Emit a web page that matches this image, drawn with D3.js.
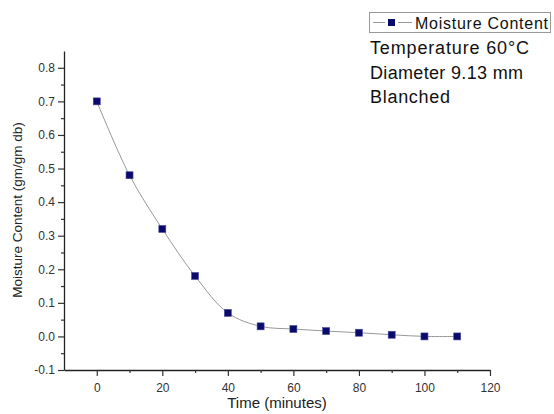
<!DOCTYPE html>
<html><head><meta charset="utf-8">
<script src="https://cdn.jsdelivr.net/npm/d3@7"></script>
<style>body{margin:0;background:#fff}svg{display:block}text{font-family:"Liberation Sans",Arial,sans-serif}</style>
</head><body>
<script>
const timeMin = [0,10,20,30,40,50,60,70,80,90,100,110];
const moisture = [0.70,0.48,0.32,0.18,0.07,0.03,0.022,0.016,0.011,0.005,0.0,0.0];
const xTicks = [0,20,40,60,80,100,120];
const yTicks = [-0.1,0.0,0.1,0.2,0.3,0.4,0.5,0.6,0.7,0.8];
const seriesName = "Moisture Content";
const notes = ["Temperature 60°C","Diameter 9.13 mm","Blanched"];

const W=554,H=414;
const svg=d3.select("body").append("svg").attr("width",W).attr("height",H);
const x=d3.scaleLinear().domain([-10,120]).range([64,490]);
const y=d3.scaleLinear().domain([-0.1,0.85]).range([370,51]);

// x axis
const xa=svg.append("g").attr("transform","translate(0,370)");
xa.call(d3.axisBottom(x).tickValues(xTicks).tickSize(6).tickSizeOuter(0).tickFormat(d3.format("d")));
xa.append("g").call(d3.axisBottom(x).tickValues(d3.range(10,121,10).filter(v=>v%20!==0)).tickSize(3).tickFormat("").tickSizeOuter(0)).select(".domain").remove();
// y axis
const ya=svg.append("g").attr("transform","translate(64,0)");
ya.call(d3.axisLeft(y).tickValues(yTicks).tickSize(6).tickSizeOuter(0).tickFormat(d=>d3.format(".1f")(d).replace("\u2212","-")));
ya.append("g").call(d3.axisLeft(y).tickValues(d3.range(-1,17,2).map(v=>v*0.05)).tickSize(3).tickFormat("").tickSizeOuter(0)).select(".domain").remove();

svg.selectAll(".domain").attr("stroke","#222").attr("stroke-width",1.3);
svg.selectAll(".tick line").attr("stroke","#333").attr("stroke-width",1.2);
svg.selectAll(".tick text").attr("font-size",12).attr("fill","#333").attr("font-family","Liberation Sans, Arial, sans-serif");
xa.selectAll(".tick text").attr("dy","1.05em");
ya.selectAll(".tick text").attr("x",-9);

// labels
svg.append("text").attr("x",277).attr("y",408).attr("text-anchor","middle").attr("font-size",15).attr("fill","#222").text("Time (minutes)");
svg.append("text").attr("transform","translate(22,210) rotate(-90)").attr("text-anchor","middle").attr("font-size",13.5).attr("fill","#222").text("Moisture Content (gm/gm db)");

const pts=timeMin.map((t,i)=>[t,moisture[i]]);
svg.append("path").datum(pts).attr("fill","none").attr("stroke","#999").attr("stroke-width",1)
 .attr("d",d3.line().x(d=>x(d[0])).y(d=>y(d[1])).curve(d3.curveCatmullRom));
svg.selectAll("rect.pt").data(pts).enter().append("rect").attr("class","pt")
 .attr("x",d=>x(d[0])-3.5).attr("y",d=>y(d[1])-3.5).attr("width",7).attr("height",7)
 .attr("fill","#0a0a6e").attr("stroke","#4a4a9a").attr("stroke-width",0.6);

// legend
const lg=svg.append("g");
lg.append("rect").attr("x",369.5).attr("y",12.5).attr("width",181).attr("height",20).attr("fill","#fff").attr("stroke","#999");
lg.append("line").attr("x1",373).attr("x2",385).attr("y1",22.5).attr("y2",22.5).attr("stroke","#999");
lg.append("line").attr("x1",398).attr("x2",412).attr("y1",22.5).attr("y2",22.5).attr("stroke","#999");
lg.append("rect").attr("x",388).attr("y",19).attr("width",7).attr("height",7).attr("fill","#0a0a6e");
lg.append("text").attr("x",415).attr("y",28.5).attr("font-size",16).attr("fill","#111")
 .attr("textLength",133).attr("lengthAdjust","spacing").text(seriesName);

const noteLens=[159,153,80];
svg.selectAll("text.note").data(notes).enter().append("text").attr("class","note")
 .attr("x",370).attr("y",(d,i)=>54+i*24.5).attr("font-size",18).attr("fill","#111")
 .attr("textLength",(d,i)=>noteLens[i]).attr("lengthAdjust","spacing").text(d=>d);
</script>
</body></html>
